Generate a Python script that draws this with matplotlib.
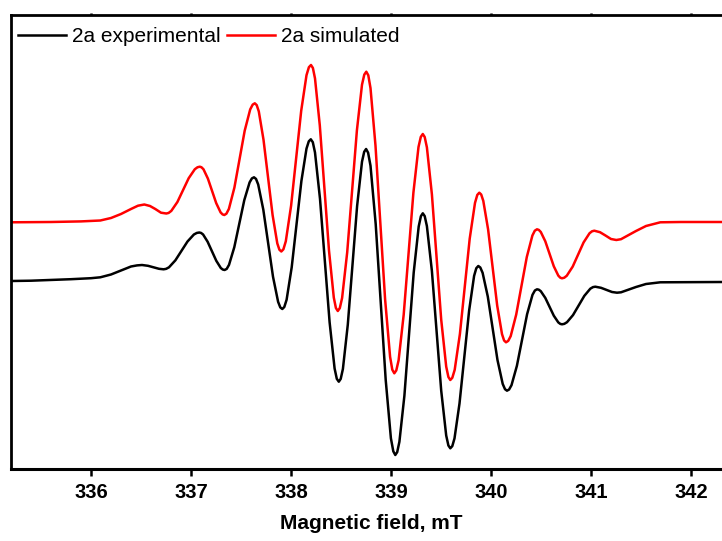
import numpy as np
import matplotlib
matplotlib.use("Agg")
import matplotlib.pyplot as plt

plt.rcParams['font.family'] = ['Liberation Sans', 'DejaVu Sans']

# EPR spectrum of 2a, field in mT, intensity in arbitrary units
field_exp = [335.203, 335.4, 335.6, 335.8, 336.0, 336.093, 336.2, 336.3, 336.4, 336.46, 336.51, 336.57,
             336.62, 336.68, 336.726, 336.751,
             336.780, 336.844, 336.905, 336.965, 337.029, 337.058, 337.083, 337.101,
             337.121, 337.166, 337.210, 337.253, 337.298, 337.318, 337.336, 337.357,
             337.380, 337.433, 337.483, 337.533, 337.586, 337.609, 337.63, 337.650,
             337.672, 337.723, 337.772, 337.820, 337.871, 337.893, 337.913, 337.933,
             337.956, 338.007, 338.056, 338.104, 338.155, 338.178, 338.198, 338.218,
             338.240, 338.290, 338.338, 338.386, 338.436, 338.458, 338.478, 338.497,
             338.519, 338.568, 338.615, 338.661, 338.710, 338.732, 338.751, 338.771,
             338.795, 338.847, 338.897, 338.947, 338.999, 339.023, 339.043, 339.062,
             339.084, 339.134, 339.181, 339.227, 339.277, 339.299, 339.318, 339.337,
             339.359, 339.409, 339.456, 339.502, 339.552, 339.574, 339.593, 339.613,
             339.635, 339.685, 339.733, 339.781, 339.831, 339.853, 339.873, 339.893,
             339.916, 339.968, 340.017, 340.065, 340.117, 340.140, 340.16, 340.181,
             340.205, 340.259, 340.31, 340.361, 340.415, 340.439, 340.46, 340.478,
             340.498, 340.543, 340.585, 340.628, 340.673, 340.693, 340.71, 340.733,
             340.760, 340.820, 340.877, 340.933, 340.993, 341.020, 341.043, 341.10,
             341.15, 341.21, 341.26, 341.30, 341.35, 341.45, 341.55, 341.693, 341.9, 342.1, 342.4]
int_exp = [0, 0.3, 1, 1.8, 2.8, 3.7, 6.5, 10.5, 14.5, 15.6, 16, 15.2,
           13.8, 12.2, 11.7, 12.14,
           13.7, 20.7, 30.1, 39.5, 46.5, 48.06, 48.5, 48.05,
           46.5, 39.3, 29.75, 20.2, 13.0, 11.45, 11, 12.1,
           16.1, 33.8, 57.4, 80.9, 98.6, 102.6, 103.7, 102.1,
           96.5, 71.4, 37.85, 4.3, -20.8, -26.4, -28, -26.0,
           -18.75, 13.7, 56.85, 100.0, 132.4, 139.7, 141.7, 138.8,
           128.5, 82.2, 20.5, -41.2, -87.5, -97.8, -100.7, -97.9,
           -88.0, -43.6, 15.65, 74.9, 119.3, 129.2, 132, 128.3,
           115.3, 56.9, -21.0, -98.9, -157.3, -170.3, -174, -171.1,
           -160.8, -114.7, -53.15, 8.4, 54.5, 64.8, 67.7, 64.9,
           54.9, 10.0, -49.8, -109.6, -154.5, -164.5, -167.3, -165.1,
           -157.4, -122.5, -76.15, -29.8, 5.1, 12.8, 15, 13.5,
           8.2, -15.6, -47.35, -79.1, -102.9, -108.2, -109.7, -108.5,
           -104.2, -84.8, -59.0, -33.2, -13.8, -9.5, -8.3, -8.7,
           -10.2, -16.9, -25.8, -34.7, -41.4, -42.9, -43.3, -42.85,
           -41.2, -34.1, -24.5, -14.9, -7.7, -6.1, -5.7, -6.8,
           -8.7, -11.0, -11.7, -11.3, -9.5, -6, -3, -1.3, -1.2, -1.0, -1.0]

field_sim = [335.203, 335.6, 335.9, 336.093, 336.2, 336.3, 336.4, 336.47, 336.533, 336.59,
             336.643, 336.70, 336.753, 336.776,
             336.803, 336.864, 336.921, 336.977, 337.038, 337.065, 337.088, 337.105,
             337.125, 337.169, 337.211, 337.252, 337.296, 337.316, 337.333, 337.354,
             337.379, 337.434, 337.486, 337.537, 337.592, 337.617, 337.638, 337.657,
             337.678, 337.725, 337.771, 337.816, 337.863, 337.884, 337.903, 337.924,
             337.948, 338.001, 338.052, 338.102, 338.155, 338.179, 338.2, 338.219,
             338.240, 338.288, 338.334, 338.380, 338.428, 338.449, 338.468, 338.488,
             338.511, 338.562, 338.611, 338.659, 338.710, 338.733, 338.753, 338.773,
             338.795, 338.845, 338.893, 338.941, 338.991, 339.013, 339.033, 339.053,
             339.076, 339.127, 339.176, 339.224, 339.275, 339.298, 339.318, 339.337,
             339.359, 339.409, 339.456, 339.502, 339.552, 339.574, 339.593, 339.613,
             339.637, 339.689, 339.738, 339.787, 339.840, 339.863, 339.883, 339.902,
             339.923, 339.971, 340.017, 340.062, 340.110, 340.131, 340.15, 340.172,
             340.197, 340.252, 340.305, 340.358, 340.414, 340.438, 340.46, 340.478,
             340.498, 340.543, 340.585, 340.628, 340.673, 340.693, 340.71, 340.733,
             340.758, 340.817, 340.872, 340.926, 340.985, 341.010, 341.033, 341.09,
             341.143, 341.20, 341.253, 341.30, 341.35, 341.45, 341.55, 341.693, 341.9, 342.4]
int_sim = [58.7, 59, 59.6, 60.5, 63, 67, 72, 75.3, 76.5, 75.0,
           72, 68.3, 67.5, 68.06,
           70.1, 79.0, 90.9, 102.8, 111.75, 113.74, 114.3, 113.72,
           111.7, 102.4, 90.15, 77.9, 68.6, 66.58, 66, 67.3,
           72.1, 93.4, 121.85, 150.3, 171.6, 176.4, 177.7, 175.9,
           169.6, 141.3, 103.6, 65.9, 37.6, 31.3, 29.5, 31.7,
           39.7, 75.3, 122.75, 170.2, 205.8, 213.8, 216, 213.0,
           202.6, 155.6, 93.0, 30.4, -16.6, -27.0, -30, -27.1,
           -17.0, 28.7, 89.65, 150.6, 196.3, 206.4, 209.3, 205.7,
           192.9, 135.3, 58.5, -18.3, -75.9, -88.7, -92.3, -89.4,
           -79.3, -33.6, 27.35, 88.3, 134.0, 144.1, 147, 144.0,
           133.6, 86.6, 24.0, -38.6, -85.6, -96.0, -99, -96.8,
           -88.8, -53.0, -5.35, 42.3, 78.1, 86.1, 88.3, 86.5,
           80.1, 51.6, 13.5, -24.6, -53.1, -59.5, -61.3, -59.9,
           -55.1, -33.6, -4.8, 24.0, 45.5, 50.3, 51.7, 51.1,
           49.0, 39.7, 27.2, 14.7, 5.4, 3.3, 2.7, 3.3,
           5.3, 14.4, 26.5, 38.6, 47.7, 49.7, 50.3, 48.8,
           45.6, 42.0, 41, 41.8, 44.5, 50, 55, 58.7, 59, 59]

xticks = [336, 337, 338, 339, 340, 341, 342]

W, H = 722, 541
fig = plt.figure(figsize=(W / 100, H / 100), dpi=100)
# axes runs past the right edge of the picture, like the cropped original
ax = fig.add_axes([11 / W, (H - 469) / H, 720 / W, 454 / H])

ax.plot(field_exp, int_exp, color='black', lw=1.8, solid_joinstyle='round', label='2a experimental')
ax.plot(field_sim, int_sim, color='#ff0000', lw=1.8, solid_joinstyle='round', label='2a simulated')

ax.set_xlim(335.2, 342.4)
ax.set_ylim(-188, 266)
ax.set_xticks(xticks)
ax.set_yticks([])
ax.tick_params(axis='x', which='major', direction='out', length=5, width=1.8,
               labelsize=14.5, pad=5, top=True, labeltop=False)
for lab in ax.get_xticklabels():
    lab.set_fontweight('bold')
for t in ax.xaxis.get_major_ticks():
    t.tick2line.set_markersize(1.5)
for side in ['left', 'top', 'bottom', 'right']:
    ax.spines[side].set_linewidth(2)
ax.spines['bottom'].set_linewidth(2.2)

ax.set_xlabel('Magnetic field, mT', fontsize=15, fontweight='bold', labelpad=9)

ax.legend(loc='upper left', bbox_to_anchor=(18 / W, 1 - 27 / H), bbox_transform=fig.transFigure,
          ncol=2, frameon=False, fontsize=15, handlelength=2.3, handletextpad=0.3,
          columnspacing=0.3, borderpad=0, borderaxespad=0)

fig.savefig('out.png', dpi=100)
